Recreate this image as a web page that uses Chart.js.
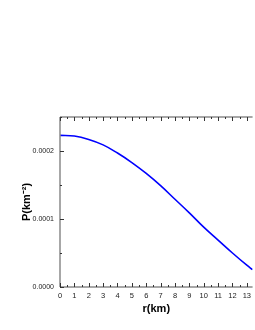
<!DOCTYPE html>
<html>
<head>
<meta charset="utf-8">
<script src="https://cdn.jsdelivr.net/npm/chart.js@4"></script>
<style>
  html, body { margin: 0; padding: 0; background: #fff; }
  canvas { display: block; }
</style>
</head>
<body>
<canvas id="c" width="255" height="330"></canvas>
<script>
// radius (km) and pressure (km^-2)
const radius = [0, 1, 2, 3, 4, 5, 6, 7, 8, 9, 10, 11, 12, 13, 13.4]
const pressure = [2.23e-4, 2.22e-4, 2.17e-4, 2.09e-4, 1.97e-4, 1.83e-4, 1.67e-4, 1.49e-4,
    1.29e-4, 1.09e-4, 0.88e-4, 0.69e-4, 0.50e-4, 0.32e-4, 0.255e-4]
const xTickLabels = ['0', '1', '2', '3', '4', '5', '6', '7', '8', '9', '10', '11', '12', '13']
const yTickLabels = ['0.0000', '0.0001', '0.0002']

const axisColor = '#8a8a8a'

// frame with inward ticks, like the original plot
const frame = {
    id: 'frame',
    afterDraw(chart) {
        const {ctx, chartArea: a, scales} = chart
        ctx.save()
        ctx.strokeStyle = axisColor
        ctx.lineWidth = 1.5
        ctx.beginPath()
        ctx.moveTo(a.left, a.top); ctx.lineTo(a.left, a.bottom)
        ctx.moveTo(a.left, a.bottom); ctx.lineTo(a.right, a.bottom)
        ctx.moveTo(a.left, a.top); ctx.lineTo(a.right, a.top)
        ctx.stroke()
        ctx.strokeStyle = '#333'
        ctx.lineWidth = 1
        ctx.beginPath()
        scales.x.ticks.forEach(t => {
            const k = Math.round(t.value * 2)
            const x = Math.round(scales.x.getPixelForValue(t.value)) + 0.5
            const len = k % 2 === 0 ? 4 : 2
            ctx.moveTo(x, a.bottom); ctx.lineTo(x, a.bottom - len)
            ctx.moveTo(x, a.top); ctx.lineTo(x, a.top + len)
        })
        scales.y.ticks.forEach(t => {
            const k = Math.round(t.value / 0.00005)
            const y = Math.round(scales.y.getPixelForValue(t.value)) + 0.5
            const len = k % 2 === 0 ? 4 : 2
            ctx.moveTo(a.left, y); ctx.lineTo(a.left + len, y)
        })
        ctx.stroke()
        ctx.restore()
    }
}

new Chart(document.getElementById('c'), {
    type: 'line',
    data: {
        datasets: [{
            data: radius.map((r, i) => ({x: r, y: pressure[i]})),
            borderColor: '#0000ff',
            borderWidth: 1.6,
            pointRadius: 0,
            tension: 0.4,
            fill: false
        }]
    },
    options: {
        responsive: false,
        animation: false,
        layout: { padding: { top: 117, right: 0, left: 0, bottom: 0 } },
        plugins: { legend: { display: false }, tooltip: { enabled: false } },
        scales: {
            x: {
                type: 'linear',
                min: 0,
                max: 13.4,
                grid: { display: false, drawTicks: false },
                border: { display: false },
                afterFit(s) { s.height = 43 },
                afterBuildTicks(s) {
                    const t = []
                    xTickLabels.forEach((l, i) => {
                        t.push({value: i})
                        if (i + 0.5 <= s.max) t.push({value: i + 0.5})
                    })
                    s.ticks = t
                },
                ticks: {
                    autoSkip: false,
                    maxRotation: 0,
                    padding: 4,
                    color: '#222',
                    font: { family: 'Liberation Sans', size: 7.5 },
                    callback: v => Number.isInteger(v) ? xTickLabels[v] : ''
                },
                title: {
                    display: true,
                    text: 'r(km)',
                    color: '#000',
                    font: { family: 'Liberation Sans', size: 11, weight: 'bold' },
                    padding: { top: 0, bottom: 14 }
                }
            },
            y: {
                min: 0,
                max: 0.00025,
                grid: { display: false, drawTicks: false },
                border: { display: false },
                afterFit(s) { s.width = 60 },
                ticks: {
                    stepSize: 0.00005,
                    autoSkip: false,
                    padding: 6,
                    color: '#222',
                    font: { family: 'Liberation Sans', size: 7 },
                    callback: v => {
                        const k = Math.round(v / 0.00005)
                        return k % 2 === 0 ? (yTickLabels[k / 2] || '') : ''
                    }
                },
                title: {
                    display: true,
                    text: 'P(km⁻²)',
                    color: '#000',
                    font: { family: 'Liberation Sans', size: 11, weight: 'bold' },
                    padding: { top: 20, bottom: 0 }
                }
            }
        }
    },
    plugins: [frame]
})
</script>
</body>
</html>
